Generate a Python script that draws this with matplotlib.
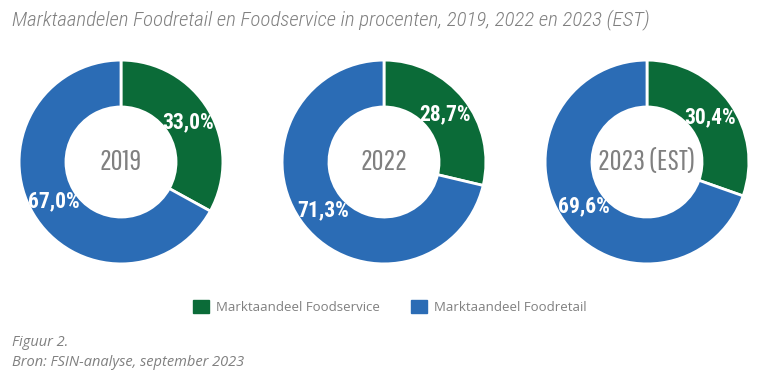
import matplotlib
matplotlib.use('Agg')
import matplotlib.pyplot as plt
from matplotlib.patches import Patch
import numpy as np

# data
years = ['2019', '2022', '2023 (EST)']
foodservice = [33.0, 28.7, 30.4]
foodretail = [67.0, 71.3, 69.6]
series_names = ['Marktaandeel Foodservice', 'Marktaandeel Foodretail']

GREEN = '#0b6b38'
BLUE = '#2b6cb5'
GREY = '#808080'
COND = ['Roboto Condensed', 'DejaVu Sans']
BODY = ['Open Sans', 'DejaVu Sans']

W, H = 771, 382
fig = plt.figure(figsize=(W / 100, H / 100), dpi=100)

centers_x = [121, 384, 647]
center_y = 162
box = 214

for i, year in enumerate(years):
    cx = centers_x[i]
    ax = fig.add_axes([(cx - box / 2) / W, (H - center_y - box / 2) / H, box / W, box / H])
    vals = [foodservice[i], foodretail[i]]
    wedges, _ = ax.pie(vals, colors=[GREEN, BLUE], startangle=90, counterclock=False,
                       radius=1.0, wedgeprops=dict(width=0.46, edgecolor='white', linewidth=2))
    # value labels inside the ring
    for w, v in zip(wedges, vals):
        ang = np.deg2rad((w.theta1 + w.theta2) / 2)
        r = 0.76
        ax.text(r * np.cos(ang), r * np.sin(ang), f'{v:.1f}%'.replace('.', ','),
                ha='center', va='center', color='white', fontsize=15.5, fontweight='bold',
                family=COND)
    ax.text(0, 0, year, ha='center', va='center', color=GREY, fontsize=21,
            family=['Pathway Gothic One', 'DejaVu Sans'])
    ax.set_xlim(-1.05, 1.05)
    ax.set_ylim(-1.05, 1.05)
    ax.set_aspect('equal')
    ax.axis('off')

fig.text(12 / W, 1 - 20 / H, 'Marktaandelen Foodretail en Foodservice in procenten, 2019, 2022 en 2023 (EST)',
         ha='left', va='center', color=GREY, fontsize=15, style='italic', fontweight='light',
         family=COND)

handles = [Patch(color=GREEN), Patch(color=BLUE)]
fig.legend(handles, series_names, loc='center', bbox_to_anchor=(390 / W, 1 - 307 / H),
           ncol=2, frameon=False, prop=dict(family=BODY, size=9.5), labelcolor=GREY,
           handlelength=1.2, handleheight=1.2, handletextpad=0.5, columnspacing=2.4)

fig.text(12 / W, 1 - 343 / H, 'Figuur 2.', ha='left', va='center', color=GREY,
         fontsize=10.5, style='italic', family=BODY)
fig.text(12 / W, 1 - 362 / H, 'Bron: FSIN-analyse, september 2023', ha='left', va='center',
         color=GREY, fontsize=10.5, style='italic', family=BODY)

fig.savefig('out.png', dpi=100, facecolor='white')
